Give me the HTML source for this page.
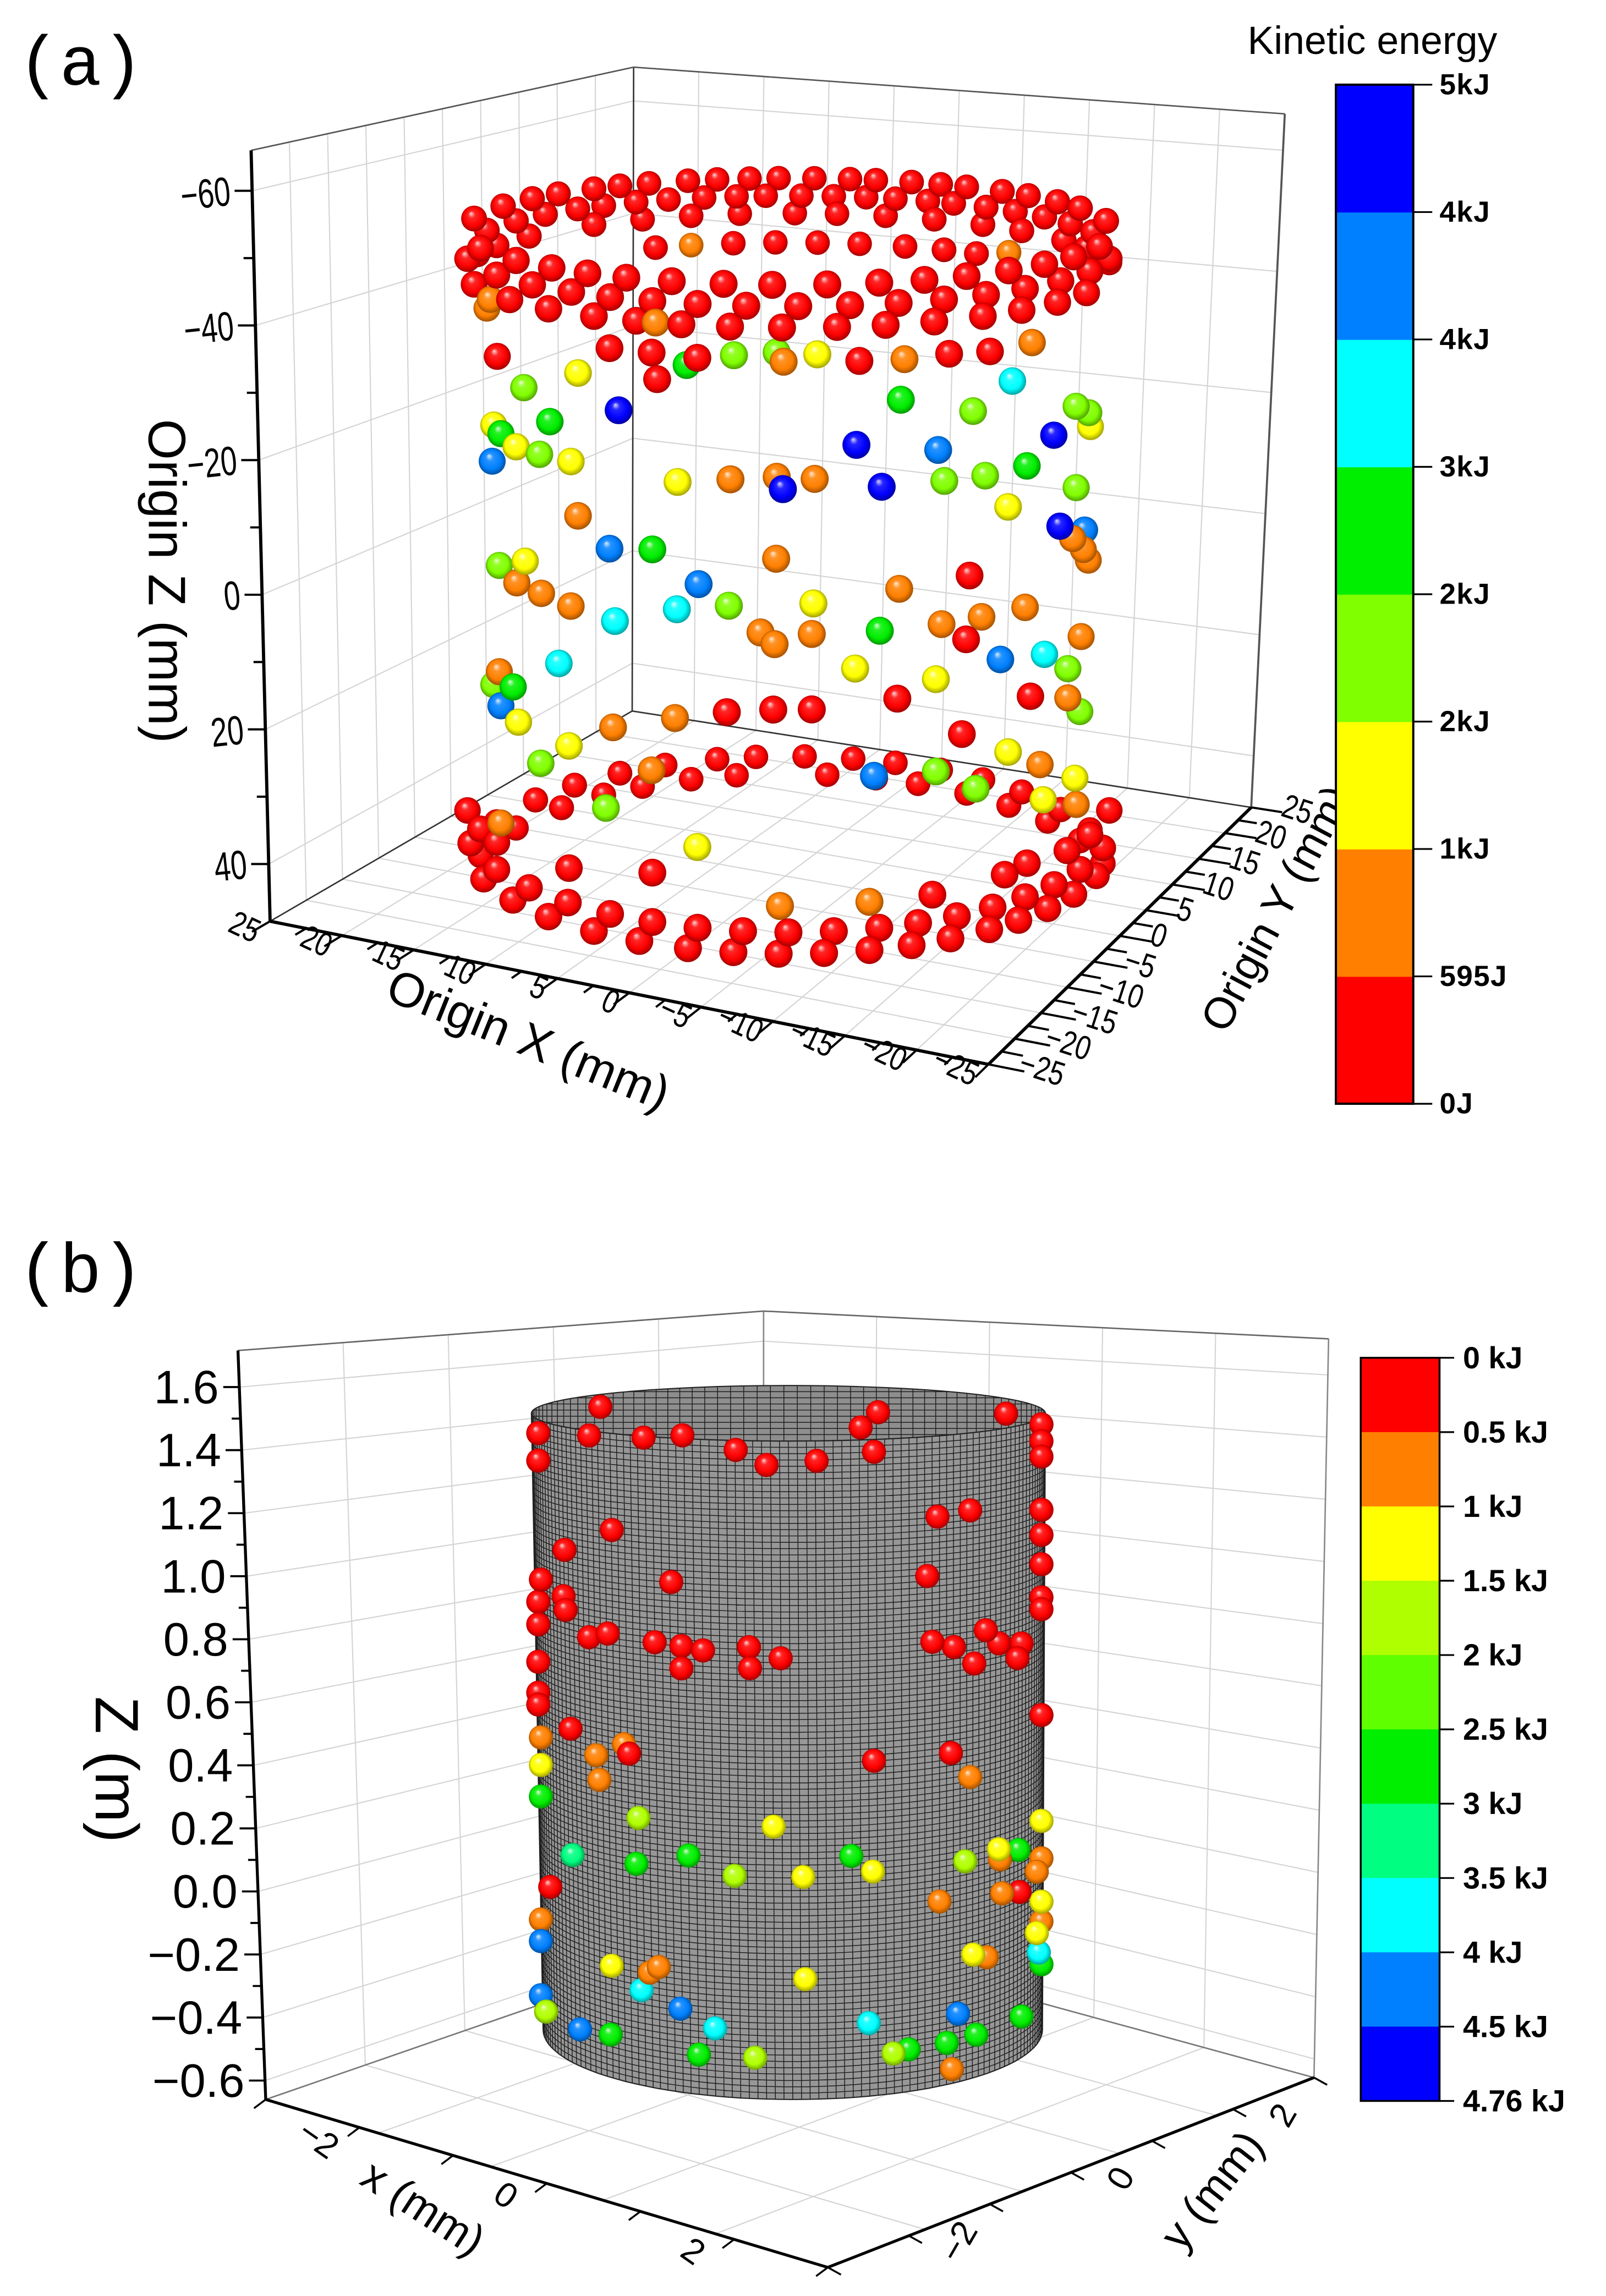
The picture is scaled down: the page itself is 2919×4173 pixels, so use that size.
<!DOCTYPE html>
<html><head><meta charset="utf-8"><title>Kinetic energy particle maps</title>
<style>
html,body{margin:0;padding:0;background:#fff;}
svg{display:block;}
text{font-family:"Liberation Sans",sans-serif;fill:#000;}
.mono{font-family:"Liberation Mono",monospace;}
.bold{font-weight:bold;}
</style></head>
<body>
<svg id="fig" xmlns="http://www.w3.org/2000/svg" width="2919" height="4173" viewBox="0 0 1100 1572.6" preserveAspectRatio="none">
<defs id="defs"></defs>
<rect x="0" y="0" width="1100" height="1572.6" fill="#fff"/>
<text class="mono" x="12" y="58" font-size="48">(a)</text>
<text class="mono" x="12" y="885" font-size="48">(b)</text>
<g id="panelA"></g>
<g id="panelB"></g>
<text x="940" y="37" font-size="27" text-anchor="middle">Kinetic energy</text>
</svg>
<script>
// ---------------- Panel (a) data ----------------
const aEdges = [0, 595, 1190, 1785, 2380, 2975, 3570, 4165, 4760];
const aBandColors = ['#ff0000', '#ff8000', '#ffff00', '#80ff00', '#00ee00', '#00ffff', '#0080ff', '#0000ff'];
const aTickLabels = ['0J', '595J', '1kJ', '2kJ', '2kJ', '3kJ', '4kJ', '4kJ', '5kJ'];
const aZTicks = [-60, -40, -20, 0, 20, 40];
const aXTicks = [25, 20, 15, 10, 5, 0, -5, -10, -15, -20, -25];
const aYTicks = [25, 20, 15, 10, 5, 0, -5, -10, -15, -20, -25];
const midU = [-0.898,-0.552,-0.422,-0.281,-0.405,-0.314,-0.168,-0.036,-0.015,0.089,0.219,0.358,0.496,0.622,0.752,-0.649,-0.816,-0.524,0.347,0.691,0.57,0.888,0.927,0.932,-0.909,-0.887,-0.736,-0.84,-0.768,-0.914,-0.671,0.21,0.462,0.819,0.736,0.481,0.607,0.888,0.678,-0.342,-0.179,-0.036,-0.017,0.081,0.288,0.838,0.914,0.877,0.91,0.925,-0.649,-0.552,-0.42,-0.038,0.559,-0.892,-0.812,-0.838,-0.762,-0.671,-0.535,-0.344,-0.277,-0.184,0.077,0.342,-0.086,-0.043,0.072,0.282,0.4725,0.596,0.73,0.548,0.654,0.79,0.862,0.903,0.206,0.455,0.336,0.747,0.862,0.899,-0.708,-0.892,-0.909,-0.849,-0.887,-0.833,-0.541,-0.35,-0.19,-0.047,0.072,0.535,0.678,0.776,0.884,0.888,0.786,0.455,0.578,0.264,-0.677,-0.764,-0.563,-0.281,-0.026,0.25,-0.887,-0.422,-0.677,-0.42,0.444,0.667,0.736];
const midZ = [-36,-40.7,-40.7,-40.4,-37,-39.3,-41,-41.5,-40.2,-41.2,-40.1,-40,-40.2,-39.8,-40,-36.5,-32.7,-32,-34.3,-35,-31.6,-28.8,-27,-24.8,-25.6,-24.8,-28.7,-23.7,-23.6,-20.1,-23.6,-28.3,-26.7,-25.7,-22.3,-22.2,-22.1,-16.8,-17,-22.7,-23.5,-24,-22.3,-23.7,-22.2,-12.1,-9.9,-9.5,-7.1,-5.1,-16,-12.1,-12.8,-12.5,-8.2,-5.2,-7.4,-3.8,-3.5,-2.8,-1.9,-4.7,-8.5,-5.7,-6.2,-7.6,-2.1,-0.5,-1.9,-1.9,-1.9,-2,-1.9,0.8,4.7,5.8,9.3,5.6,3.2,5.8,7.9,11.2,13.6,16.6,5.9,10.5,12.9,11.7,15.4,16.5,13.3,10.7,9.3,8.7,8.7,14.2,18.3,21.6,26,30,26.9,18.9,22.4,18.5,17.4,21.2,25,28.6,36.3,36.2,32.7,18.5,35,33,36.3,35.8,35.2];
const midE = [300,300,300,300,300,2700,2100,2100,900,1500,300,900,300,300,900,1500,2100,4500,2700,3300,2100,2100,2100,1500,1500,2700,2700,1500,2100,3900,1500,4500,3900,4500,2700,2100,2100,2100,1500,1500,900,900,4500,900,4500,4500,3900,900,900,900,900,3900,2700,900,300,2100,1500,900,900,900,3300,3300,3900,2100,1500,900,900,900,900,2700,900,900,900,300,3900,3300,2100,900,1500,1500,300,300,900,2100,3300,900,2100,2700,3900,1500,900,900,300,300,300,300,1500,900,1500,900,1500,2100,2100,3900,1500,2100,2100,1500,900,900,900,900,300,300,300,300,300];
const backU = [-0.41,-0.17,-0.04,0.09,0.22,0.36,0.48,0.58,-0.3,0.68];
const backZ = [-40,-40,-40,-40,-40,-40,-40,-40,-40,-41];
const backE = [300,300,300,300,300,300,300,300,900,900];
const frontExtraU = [-0.92,-0.93,-0.41];
const frontExtraZ = [-44,-42.5,-45];
const frontExtraE = [900,900,900];
const ringZ = [-51,-48,-45,-51,-48,-45,48,51,40,43,36];
const ringSide = [-1,-1,-1,1,1,1,-1,-1,1,1,1];
const ringU = [
 [-0.97,-0.88,-0.79,-0.71,-0.6,-0.52,-0.43,-0.31,-0.22,-0.12,-0.03,0.08,0.19,0.27,0.38,0.47,0.55,0.66,0.74,0.83,0.9,0.98],
 [-0.93,-0.84,-0.75,-0.65,-0.57,-0.47,-0.37,-0.26,-0.16,-0.07,0.04,0.14,0.24,0.33,0.43,0.51,0.61,0.7,0.79,0.87,0.94],
 [-0.96,-0.9,-0.8,-0.6,-0.45,-0.3,-0.15,0.02,0.15,0.3,0.45,0.6,0.72,0.85,0.92,0.99],
 [-0.95,-0.84,-0.73,-0.62,-0.5,-0.36,-0.2,-0.05,0.12,0.28,0.42,0.55,0.68,0.79,0.88,0.96],
 [-0.99,-0.9,-0.79,-0.67,-0.55,-0.42,-0.28,-0.13,0.03,0.19,0.34,0.48,0.61,0.73,0.84,0.93,0.99],
 [-0.97,-0.86,-0.74,-0.6,-0.47,-0.33,-0.18,-0.02,0.15,0.3,0.45,0.6,0.72,0.83,0.92],
 [-0.9,-0.78,-0.66,-0.52,-0.38,-0.22,-0.1,0.05,0.2,0.33,0.47,0.6,0.72,0.84,0.93],
 [-0.95,-0.84,-0.7,-0.57,-0.45,-0.3,-0.16,0.12,0.27,0.4,0.55,0.68,0.8,0.9,0.97],
 [-0.98,-0.9,-0.8,-0.68,-0.55,-0.42,-0.28,-0.14,0,0.14,0.28,0.4,0.52,0.63,0.73,0.82,0.9,0.97],
 [-0.94,-0.85,-0.74,-0.6,-0.46,-0.31,-0.17,-0.03,0.11,0.25,0.38,0.5,0.62,0.71,0.8,0.88,0.95],
 [-0.99,-0.95,-0.9,0.86,0.93,0.99]
];
const ringE = [300,300,300,300,300,300,300,300,300,300,300];

// ---------------- Panel (b) data ----------------
const bEdges = [0, 0.5, 1, 1.5, 2, 2.5, 3, 3.5, 4, 4.5, 4.76];
const bBandColors = ['#ff0000','#ff8000','#ffff00','#b0ff00','#60ff00','#00ee00','#00ff80','#00ffff','#0080ff','#0000ff'];
const bTickLabels = ['0 kJ','0.5 kJ','1 kJ','1.5 kJ','2 kJ','2.5 kJ','3 kJ','3.5 kJ','4 kJ','4.5 kJ','4.76 kJ'];
const bZTicks = [1.6, 1.4, 1.2, 1.0, 0.8, 0.6, 0.4, 0.2, 0.0, -0.2, -0.4, -0.6];
const bXTicks = [-2, 0, 2];
const bYTicks = [-2, 0, 2];
const bS = [-0.746,-0.79,-0.576,-0.423,-0.213,-0.092,0.105,0.331,0.347,0.279,0.851,-0.99,-0.99,0.99,0.99,0.99,
 -0.701,-0.887,-0.467,-0.98,-0.891,-0.883,-0.99,-0.99,-0.79,-0.717,-0.532,-0.427,-0.342,-0.427,-0.161,-0.157,-0.036,0.581,0.71,0.541,0.99,0.99,0.99,0.99,0.99,0.561,0.646,0.771,0.823,0.726,0.896,0.912,-0.99,-0.99,-0.99,-0.863,-0.633,0.331,0.634,0.99,
 -0.98,-0.762,-0.653,-0.75,0.71,0.589,0.835,0.827,0.972,0.99,0.99,-0.98,-0.552,-0.516,0.775,0.638,
 -0.943,0.904,
 -0.98,-0.064,0.053,0.327,0.823,0.99,0.061,-0.701,0.722,0.99,0.972,
 -0.596,-0.217,0.69,-0.137,0.408,-0.959,
 -0.98,-0.604,-0.399,0.242,0.9,-0.705,-0.358,0.468,0.618,0.734,0.912,0.99,
 -0.855,
 -0.584,-0.294,0.311,0.98,
 -0.98,-0.98,-0.431,-0.826,0.662];
const bZ = [1.615,1.515,1.537,1.557,1.52,1.474,1.487,1.509,1.636,1.59,1.573,1.456,1.367,1.484,1.43,1.38,
 1.224,1.124,1.08,0.991,0.973,0.931,0.911,0.838,0.863,0.887,0.88,0.876,0.867,0.804,0.884,0.816,0.85,1.281,1.286,1.093,1.208,1.127,1.032,0.925,0.887,0.879,0.853,0.889,0.837,0.789,0.772,0.814,0.717,0.617,0.579,0.552,0.51,0.511,0.512,0.545,
 0.481,0.487,0.538,0.409,0.424,0.037,0.027,0.138,0.052,0.082,-0.122,-0.107,-0.189,-0.168,-0.168,-0.51,
 0.017,0.014,
 0.392,0.306,0.143,0.153,0.172,0.203,-0.187,-0.184,-0.151,-0.058,-0.146,
 0.306,0.144,0.155,-0.442,-0.439,-0.393,
 0.29,0.157,0.201,0.207,0.151,-0.407,-0.44,-0.43,-0.423,-0.412,-0.391,-0.26,
 0.146,
 -0.249,-0.352,-0.336,-0.214,
 -0.177,-0.352,-0.296,-0.411,-0.334];
const bE = [0.2,0.2,0.2,0.2,0.2,0.2,0.2,0.2,0.2,0.2,0.2,0.2,0.2,0.2,0.2,0.2,
 0.2,0.2,0.2,0.2,0.2,0.2,0.2,0.2,0.2,0.2,0.2,0.2,0.2,0.2,0.2,0.2,0.2,0.2,0.2,0.2,0.2,0.2,0.2,0.2,0.2,0.2,0.2,0.2,0.2,0.2,0.2,0.2,0.2,0.2,0.2,0.2,0.2,0.2,0.2,0.2,
 0.8,0.8,0.8,0.8,0.8,0.8,0.8,0.8,0.8,0.8,0.8,0.8,0.8,0.8,0.8,0.8,
 0.2,0.2,
 1.2,1.2,1.2,1.2,1.2,1.2,1.2,1.2,1.2,1.2,1.2,
 1.8,1.8,1.8,1.8,1.8,1.8,
 2.7,2.7,2.7,2.7,2.7,2.7,2.7,2.7,2.7,2.7,2.7,2.7,
 3.2,
 3.8,3.8,3.8,3.8,
 4.2,4.2,4.2,4.2,4.2];

// ---------------- helpers ----------------
const NS = 'http://www.w3.org/2000/svg';
function el(tag, attrs, parent) {
  const e = document.createElementNS(NS, tag);
  for (const k in attrs) e.setAttribute(k, attrs[k]);
  parent.appendChild(e);
  return e;
}
const defs = document.getElementById('defs');
const gradCache = {};
function shade(hex, f) {
  const n = parseInt(hex.slice(1), 16);
  let r = (n >> 16) & 255, g = (n >> 8) & 255, b = n & 255;
  if (f < 0) { r = r * (1 + f); g = g * (1 + f); b = b * (1 + f); }
  else { r = r + (255 - r) * f; g = g + (255 - g) * f; b = b + (255 - b) * f; }
  return 'rgb(' + Math.round(r) + ',' + Math.round(g) + ',' + Math.round(b) + ')';
}
function grad(hex) {
  if (gradCache[hex]) return gradCache[hex];
  const id = 'g' + hex.slice(1);
  const g = el('radialGradient', {id: id, cx: '0.5', cy: '0.5', r: '0.55', fx: '0.38', fy: '0.3'}, defs);
  el('stop', {offset: '0', 'stop-color': shade(hex, 0.85)}, g);
  el('stop', {offset: '0.25', 'stop-color': shade(hex, 0.15)}, g);
  el('stop', {offset: '0.65', 'stop-color': hex}, g);
  el('stop', {offset: '1', 'stop-color': shade(hex, -0.45)}, g);
  gradCache[hex] = 'url(#' + id + ')';
  return gradCache[hex];
}
function bandColor(edges, colors, v) {
  for (let i = 0; i < colors.length; i++) if (v < edges[i + 1]) return colors[i];
  return colors[colors.length - 1];
}

// ---------------- Panel (a) ----------------
const gA = document.getElementById('panelA');
const AF = {L: [185, 631], F: [677, 729], R: [857, 553], B: [433, 487]};
const AT = {L: [172, 103], F: [686, 140], R: [880, 78], B: [434, 46]};
const AZMIN = -66, AZMAX = 48.5;
function bil(C, u, v) {
  const w = [(1 - u) * (1 - v), u * (1 - v), u * v, (1 - u) * v];
  return [C.L[0] * w[0] + C.F[0] * w[1] + C.R[0] * w[2] + C.B[0] * w[3],
          C.L[1] * w[0] + C.F[1] * w[1] + C.R[1] * w[2] + C.B[1] * w[3]];
}
function PA(x, y, z) {
  const u = (25 - x) / 50, v = (y + 25) / 50, t = (z - AZMIN) / (AZMAX - AZMIN);
  const a = bil(AT, u, v), b = bil(AF, u, v);
  return [a[0] + (b[0] - a[0]) * t, a[1] + (b[1] - a[1]) * t];
}
function PCa(u, z, side) {
  const t = (z - AZMIN) / (AZMAX - AZMIN);
  const c = Math.sqrt(Math.max(0, 1 - u * u));
  return [540 + 222 * u, 92 + 508 * t + side * (30 + 50 * t) * c];
}
function lineA(p, q, stroke, w, name) {
  const l = el('line', {x1: p[0], y1: p[1], x2: q[0], y2: q[1], stroke: stroke, 'stroke-width': w}, gA);
  
  
  return l;
}
const GRID = '#d4d4d4';
for (let y = -25; y <= 25; y += 5) lineA(PA(25, y, AZMIN), PA(25, y, AZMAX), GRID, 0.8, 'grid-line-left-wall');
for (let x = -25; x <= 25; x += 5) lineA(PA(x, 25, AZMIN), PA(x, 25, AZMAX), GRID, 0.8, 'grid-line-right-wall');
for (const z of aZTicks) {
  lineA(PA(25, -25, z), PA(25, 25, z), GRID, 0.8, 'grid-line-left-wall');
  lineA(PA(25, 25, z), PA(-25, 25, z), GRID, 0.8, 'grid-line-right-wall');
}
for (let v = -25; v <= 25; v += 5) {
  lineA(PA(25, v, AZMAX), PA(-25, v, AZMAX), GRID, 0.8, 'grid-line-floor');
  lineA(PA(v, -25, AZMAX), PA(v, 25, AZMAX), GRID, 0.8, 'grid-line-floor');
}
lineA(PA(25, 25, AZMIN), PA(25, 25, AZMAX), '#333', 1, 'box-edge-back');
lineA(PA(-25, 25, AZMIN), PA(-25, 25, AZMAX), '#555', 1.4, 'box-edge-right');
lineA(PA(25, -25, AZMIN), PA(25, 25, AZMIN), '#555', 1, 'box-edge-top-left');
lineA(PA(25, 25, AZMIN), PA(-25, 25, AZMIN), '#555', 1, 'box-edge-top-right');
lineA(PA(25, -25, AZMAX), PA(25, 25, AZMAX), '#333', 1, 'box-edge-floor-left');
lineA(PA(25, 25, AZMAX), PA(-25, 25, AZMAX), '#333', 1, 'box-edge-floor-right');

const aParticles = [];
for (let i = 0; i < midU.length; i++) aParticles.push({u: midU[i], z: midZ[i], e: midE[i], s: 1});
for (let i = 0; i < backU.length; i++) aParticles.push({u: backU[i], z: backZ[i], e: backE[i], s: -1});
for (let i = 0; i < frontExtraU.length; i++) aParticles.push({u: frontExtraU[i], z: frontExtraZ[i], e: frontExtraE[i], s: 1});
for (let k = 0; k < ringZ.length; k++) for (const u of ringU[k]) aParticles.push({u: u, z: ringZ[k], e: ringE[k], s: ringSide[k]});
aParticles.forEach(p => { p.c = Math.sqrt(Math.max(0, 1 - p.u * p.u)); p.depth = p.s * p.c; });
aParticles.sort((a, b) => a.depth - b.depth);
const gAP = el('g', {}, gA);


for (const p of aParticles) {
  const q = PCa(p.u, p.z, p.s);
  const col = bandColor(aEdges, aBandColors, p.e);
  const c = el('circle', {cx: q[0].toFixed(1), cy: q[1].toFixed(1), r: (9 + 0.6 * p.depth).toFixed(2), fill: grad(col)}, gAP);
  
  
}

lineA(PA(25, -25, AZMIN), PA(25, -25, AZMAX), '#000', 2.2, 'z-axis-line');
lineA(PA(25, -25, AZMAX), PA(-25, -25, AZMAX), '#000', 2.2, 'x-axis-line');
lineA(PA(-25, -25, AZMAX), PA(-25, 25, AZMAX), '#000', 2.2, 'y-axis-line');
function textA(x, y, s, size, tr, name, anchor) {
  const t = el('text', {transform: 'translate(' + x.toFixed(1) + ',' + y.toFixed(1) + ') ' + tr, 'font-size': size, 'text-anchor': anchor || 'middle', 'dominant-baseline': 'central'}, gA);
  t.textContent = s;
  
  
  return t;
}
for (let z = -60; z <= 40; z += 10) {
  const p = PA(25, -25, z);
  const major = aZTicks.indexOf(z) >= 0;
  lineA(p, [p[0] - (major ? 12 : 7), p[1]], '#000', 1.5, 'z-tick');
}
for (const z of aZTicks) {
  const p = PA(25, -25, z);
  textA(p[0] - 15, p[1], String(z).replace('-', '\u2212'), 28, 'rotate(-6) scale(0.72,1)', 'z-tick-label', 'end');
}
for (let x = 25; x >= -25; x -= 2.5) {
  const p = PA(x, -25, AZMAX), q = PA(x, (x % 5 === 0) ? -27.5 : -26.5, AZMAX);
  lineA(p, q, '#000', 1.5, 'x-tick');
}
for (const x of aXTicks) {
  const p = PA(x, -25, AZMAX);
  textA(p[0] - 8, p[1] + 8, String(x).replace('-', '\u2212'), 23, 'rotate(25) scale(0.8,1)', 'x-tick-label', 'end');
}
for (let y = 25; y >= -25; y -= 2.5) {
  const p = PA(-25, y, AZMAX), q = PA((y % 5 === 0) ? -27.5 : -26.5, y, AZMAX);
  lineA(p, q, '#000', 1.5, 'y-tick');
}
for (const y of aYTicks) {
  const p = PA(-25, y, AZMAX);
  textA(p[0] + 22, p[1] - 2, String(y).replace('-', '\u2212'), 23, 'rotate(18) scale(0.8,1)', 'y-tick-label', 'start');
}
textA(362, 712, 'Origin X (mm)', 33, 'rotate(22)', 'x-axis-title');
textA(874, 622, 'Origin Y (mm)', 30, 'rotate(-62)', 'y-axis-title');
textA(114, 398, 'Origin Z (mm)', 36, 'rotate(90)', 'z-axis-title');

// colorbar (a)
const cbA = el('g', {}, document.getElementById('fig'));


const cbAx = 915, cbAw = 53, cbAtop = 58, cbAbot = 756;
function cbAy(v) { return cbAbot - (v - aEdges[0]) / (aEdges[aEdges.length - 1] - aEdges[0]) * (cbAbot - cbAtop); }
for (let i = 0; i < aBandColors.length; i++) {
  const r = el('rect', {x: cbAx, y: cbAy(aEdges[i + 1]), width: cbAw, height: cbAy(aEdges[i]) - cbAy(aEdges[i + 1]) + 0.3, fill: aBandColors[i]}, cbA);
  
  
}
const cbAf = el('rect', {x: cbAx, y: cbAtop, width: cbAw, height: cbAbot - cbAtop, fill: 'none', stroke: '#000', 'stroke-width': 1.5}, cbA);


for (let i = 0; i < aEdges.length; i++) {
  const y = cbAy(aEdges[i]);
  const l = el('line', {x1: cbAx + cbAw, y1: y, x2: cbAx + cbAw + 13, y2: y, stroke: '#000', 'stroke-width': 1.2}, cbA);
  
  
  const t = el('text', {x: 986, y: y, 'font-size': 20, 'font-weight': 'bold', 'dominant-baseline': 'central', 'letter-spacing': '0.5'}, cbA);
  t.textContent = aTickLabels[i];
  
  
}

// ---------------- Panel (b) ----------------
const gB = document.getElementById('panelB');
function lineB(p, q, stroke, w, name, parent) {
  const l = el('line', {x1: p[0], y1: p[1], x2: q[0], y2: q[1], stroke: stroke, 'stroke-width': w}, parent || gB);
  
  
  return l;
}
function lerp(p, q, t) { return [p[0] + (q[0] - p[0]) * t, p[1] + (q[1] - p[1]) * t]; }
const BLT = [163, 925], BBT = [523, 898], BRT = [910, 917];
const BLB = [182, 1438], BBB = [523, 1320], BRB = [900, 1423], BFB = [567, 1553];
const BZTOP = 1.716, BZBOT = -0.66;
function tz(z) { return (BZTOP - z) / (BZTOP - BZBOT); }
for (const z of bZTicks) {
  const t = tz(z);
  lineB(lerp(BLT, BLB, t), lerp(BBT, BBB, t), GRID, 0.8, 'grid-line-left-wall');
  lineB(lerp(BBT, BBB, t), lerp(BRT, BRB, t), GRID, 0.8, 'grid-line-right-wall');
}
for (let i = 1; i < 5; i++) {
  const f = i / 5;
  lineB(lerp(BLT, BBT, f), lerp(BLB, BBB, f), GRID, 0.8, 'grid-line-left-wall');
  lineB(lerp(BBT, BRT, f), lerp(BBB, BRB, f), GRID, 0.8, 'grid-line-right-wall');
  lineB(lerp(BLB, BBB, f), lerp(BFB, BRB, f), GRID, 0.8, 'grid-line-floor');
  lineB(lerp(BLB, BFB, f), lerp(BBB, BRB, f), GRID, 0.8, 'grid-line-floor');
}
lineB(BBT, BBB, '#888', 1, 'box-edge-back');
lineB(BRT, BRB, '#888', 1, 'box-edge-right');
lineB(BLT, BBT, '#666', 1, 'box-edge-top-left');
lineB(BBT, BRT, '#666', 1, 'box-edge-top-right');
lineB(BLB, BBB, '#777', 1, 'box-edge-floor-left');
lineB(BBB, BRB, '#777', 1, 'box-edge-floor-right');

const CYL = {cx0: 540, cy0: 968, rx0: 176, ry0: 19, cx1: 543, cy1: 1390, rx1: 171, ry1: 48};
function cylAt(f) { return {cx: CYL.cx0 + (CYL.cx1 - CYL.cx0) * f, cy: CYL.cy0 + (CYL.cy1 - CYL.cy0) * f, rx: CYL.rx0 + (CYL.rx1 - CYL.rx0) * f, ry: CYL.ry0 + (CYL.ry1 - CYL.ry0) * f}; }
const gC = el('g', {}, gB);


(function () {
  const top = cylAt(0), bot = cylAt(1);
  let d = 'M' + (top.cx - top.rx) + ',' + top.cy + ' L' + (bot.cx - bot.rx) + ',' + bot.cy;
  for (let a = -90; a <= 90; a += 3) { const r = a * Math.PI / 180; d += ' L' + (bot.cx + bot.rx * Math.sin(r)).toFixed(1) + ',' + (bot.cy + bot.ry * Math.cos(r)).toFixed(1); }
  d += ' L' + (top.cx + top.rx) + ',' + top.cy;
  for (let a = 90; a >= -90; a -= 3) { const r = a * Math.PI / 180; d += ' L' + (top.cx + top.rx * Math.sin(r)).toFixed(1) + ',' + (top.cy + top.ry * Math.cos(r)).toFixed(1); }
  d += 'Z';
  const body = el('path', {d: d, fill: '#979797', stroke: '#222', 'stroke-width': 0.8}, gC);
  
  
  const topE = el('ellipse', {cx: top.cx, cy: top.cy, rx: top.rx, ry: top.ry, fill: '#8e8e8e', stroke: '#222', 'stroke-width': 0.8}, gC);
  
  
  let dm = '';
  const N = 104;
  for (let k = 1; k < N; k++) {
    const c = cylAt(k / N);
    for (let a = -90; a <= 90; a += 4) {
      const r = a * Math.PI / 180;
      dm += (a === -90 ? 'M' : 'L') + (c.cx + c.rx * Math.sin(r)).toFixed(1) + ',' + (c.cy + c.ry * Math.cos(r)).toFixed(1);
    }
  }
  for (let a = -88; a < 90; a += 2) {
    const r = a * Math.PI / 180;
    dm += 'M' + (top.cx + top.rx * Math.sin(r)).toFixed(1) + ',' + (top.cy + top.ry * Math.cos(r)).toFixed(1) + 'L' + (bot.cx + bot.rx * Math.sin(r)).toFixed(1) + ',' + (bot.cy + bot.ry * Math.cos(r)).toFixed(1);
  }
  for (let a = -88; a < 90; a += 3) {
    const r = a * Math.PI / 180;
    const x = top.cx + top.rx * Math.sin(r), y0 = top.cy - top.ry * Math.cos(r);
    dm += 'M' + x.toFixed(1) + ',' + y0.toFixed(1) + 'L' + x.toFixed(1) + ',' + (top.cy + top.ry * Math.cos(r)).toFixed(1);
  }
  for (let k = 1; k < 9; k++) {
    const yy = top.cy - top.ry + k * 4.2;
    const w = top.rx * Math.sqrt(Math.max(0, 1 - Math.pow((yy - top.cy) / top.ry, 2)));
    dm += 'M' + (top.cx - w).toFixed(1) + ',' + yy.toFixed(1) + 'L' + (top.cx + w).toFixed(1) + ',' + yy.toFixed(1);
  }
  const mesh = el('path', {d: dm, fill: 'none', stroke: '#1e1e1e', 'stroke-width': 0.55}, gC);
  
  
})();

function PB(s, z) {
  const c = Math.sqrt(Math.max(0, 1 - s * s));
  return [541 + 174 * s, 1392 - (z + 0.5) * 212 + 30 * c];
}
const bParticles = [];
for (let i = 0; i < bS.length; i++) bParticles.push({s: bS[i], z: bZ[i], e: bE[i]});
bParticles.sort((a, b) => Math.abs(b.s) - Math.abs(a.s));
const gBP = el('g', {}, gB);


for (const p of bParticles) {
  const q = PB(p.s, p.z);
  const col = bandColor(bEdges, bBandColors, p.e);
  const c = el('circle', {cx: q[0].toFixed(1), cy: q[1].toFixed(1), r: 8.3, fill: grad(col)}, gBP);
  
  
}

lineB(BLT, BLB, '#000', 2, 'z-axis-line');
lineB(BLB, BFB, '#000', 2, 'x-axis-line');
lineB(BFB, BRB, '#000', 2, 'y-axis-line');
function textB(x, y, s, size, rot, name, anchor) {
  const t = el('text', {transform: 'translate(' + x.toFixed(1) + ',' + y.toFixed(1) + ') rotate(' + rot + ')', 'font-size': size, 'text-anchor': anchor || 'middle', 'dominant-baseline': 'central'}, gB);
  t.textContent = s;
  
  
  return t;
}
for (let z = -0.6; z <= 1.61; z += 0.1) {
  const p = lerp(BLT, BLB, tz(z));
  const major = Math.abs(Math.round(z * 10) % 2) === 0;
  lineB(p, [p[0] - (major ? 11 : 6), p[1]], '#000', 1.4, 'z-tick');
}
for (const z of bZTicks) {
  const p = lerp(BLT, BLB, tz(z));
  textB(p[0] - 14, p[1], z.toFixed(1).replace('-', '\u2212'), 32, 0, 'z-tick-label', 'end');
}
for (let x = -3; x <= 3; x += 1) {
  const f = (x + 3) / 6, p = lerp(BLB, BFB, f);
  lineB(p, [p[0] - 8, p[1] + 6], '#000', 1.3, 'x-tick');
}
for (const x of bXTicks) {
  const p = lerp(BLB, BFB, (x + 3) / 6);
  textB(p[0] - 28, p[1] + 8, String(x).replace('-', '\u2212'), 24, 35, 'x-tick-label');
}
for (let y = -3; y <= 3; y += 1) {
  const f = (y + 3) / 6, p = lerp(BFB, BRB, f);
  lineB(p, [p[0] + 9, p[1] + 5], '#000', 1.3, 'y-tick');
}
for (const y of bYTicks) {
  const p = lerp(BFB, BRB, (y + 3) / 6);
  textB(p[0] + 34, p[1] + 4, String(y).replace('-', '\u2212'), 24, -60, 'y-tick-label');
}
textB(290, 1512, 'x (mm)', 30, 33, 'x-axis-title');
textB(830, 1500, 'y (mm)', 30, -52, 'y-axis-title');
textB(80, 1212, 'Z (m)', 42, 90, 'z-axis-title');

const cbB = el('g', {}, document.getElementById('fig'));


const cbBx = 932, cbBw = 54, cbBtop = 930, cbBbot = 1439;
function cbBy(i) { return cbBtop + i / (bEdges.length - 1) * (cbBbot - cbBtop); }
for (let i = 0; i < bBandColors.length; i++) {
  const r = el('rect', {x: cbBx, y: cbBy(i), width: cbBw, height: cbBy(i + 1) - cbBy(i) + 0.3, fill: bBandColors[i]}, cbB);
  
  
}
const cbBf = el('rect', {x: cbBx, y: cbBtop, width: cbBw, height: cbBbot - cbBtop, fill: 'none', stroke: '#000', 'stroke-width': 1.3}, cbB);


for (let i = 0; i < bEdges.length; i++) {
  const y = cbBy(i);
  const l = el('line', {x1: cbBx + cbBw, y1: y, x2: cbBx + cbBw + 10, y2: y, stroke: '#000', 'stroke-width': 1.2}, cbB);
  
  
  const t = el('text', {x: 1002, y: y, 'font-size': 21, 'font-weight': 'bold', 'dominant-baseline': 'central'}, cbB);
  t.textContent = bTickLabels[i];
  
  
}
</script>
</body></html>
